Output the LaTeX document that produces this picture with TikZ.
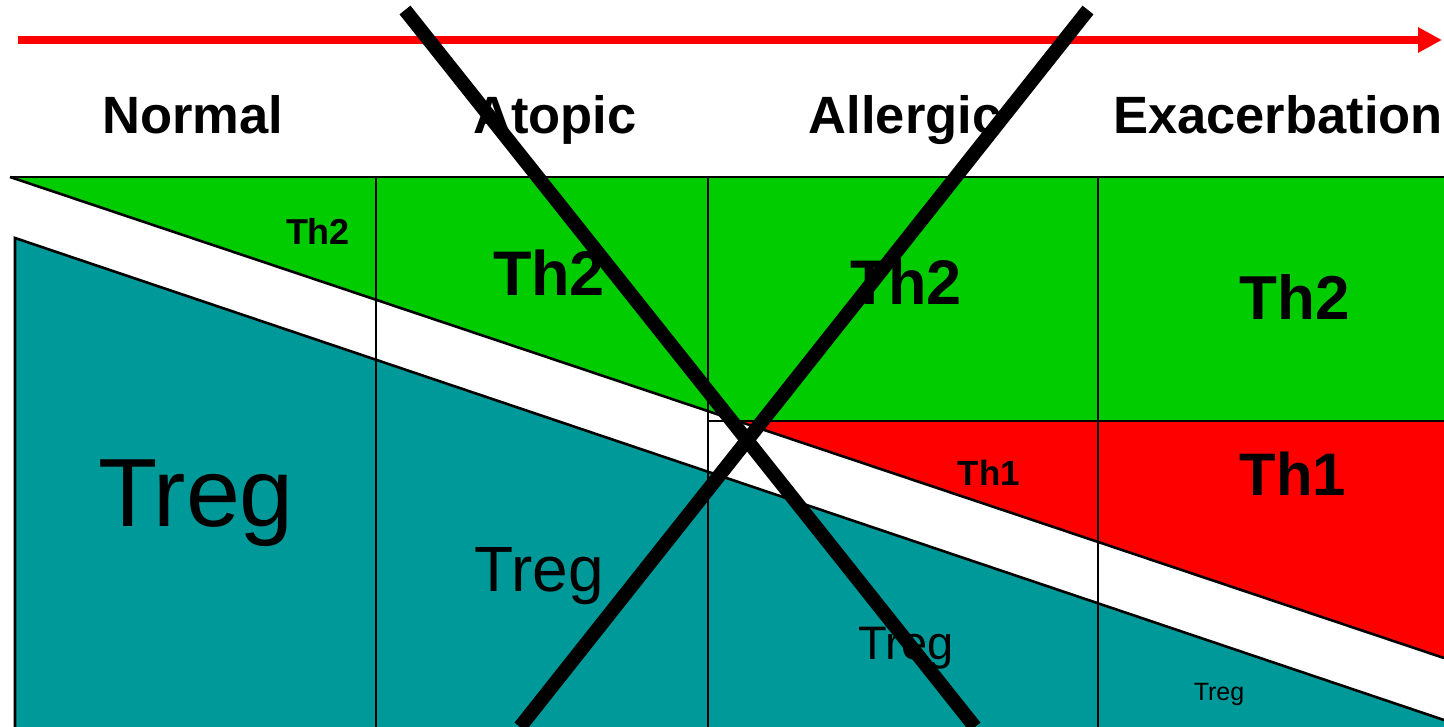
\documentclass[tikz,border=0pt]{standalone}
\usepackage{fontspec}
\setmainfont{Liberation Sans}
\usetikzlibrary{arrows.meta}
\definecolor{thgreen}{RGB}{0,204,0}
\definecolor{thred}{RGB}{255,0,0}
\definecolor{tregteal}{RGB}{0,153,153}
\tikzset{
  region/.style={draw=black, line width=2.6pt, line join=miter},
  divider/.style={draw=black, line width=1.5pt},
  stagelabel/.style={anchor=base, inner sep=0pt, font=\fontsize{52.5}{52.5}\selectfont\bfseries},
  cellb/.style={anchor=base, inner sep=0pt, font=\fontsize{#1}{#1}\selectfont\bfseries},
  cellr/.style={anchor=base, inner sep=0pt, font=\fontsize{#1}{#1}\selectfont},
  crossline/.style={draw=black, line width=14pt},
  timearrow/.style={draw=thred, line width=8pt, -{Triangle[length=24pt,width=24pt]}}
}
\begin{document}
\begin{tikzpicture}[x=1pt,y=-1pt]
\useasboundingbox[fill=white] (0,0) rectangle (1444,727);
% coordinates
\coordinate (gA) at (10,177);
\coordinate (gB) at (1444,177);
\coordinate (gC) at (1444,421);
\coordinate (gD) at (737,421);
\coordinate (rE) at (1444,658);
\coordinate (tA) at (15,238);
\coordinate (tB) at (1444,720);
\coordinate (tC) at (1444,727);
\coordinate (tD) at (15,727);
% regions
\fill[thgreen] (gA) -- (gB) -- (gC) -- (gD) -- cycle;
\fill[thred] (gD) -- (gC) -- (rE) -- cycle;
\fill[tregteal] (tA) -- (tB) -- (tC) -- (tD) -- cycle;
\draw[region] (gA) -- (gB);
\draw[region] (gA) -- (rE);
\draw[region] (tD) -- (tA) -- (tB);
% dividers
\coordinate (v1t) at (376,177); \coordinate (v1b) at (376,727);
\coordinate (v2t) at (708,177); \coordinate (v2b) at (708,727);
\coordinate (v3t) at (1098,177); \coordinate (v3b) at (1098,727);
\coordinate (hL) at (708,421);
\draw[divider] (v1t) -- (v1b);
\draw[divider] (v2t) -- (v2b);
\draw[divider] (v3t) -- (v3b);
\draw[region] (hL) -- (gC);
% labels
\node[stagelabel] (normal) at (193,134) {Normal};
\node[stagelabel] (atopic) at (555,134) {Atopic};
\node[stagelabel] (allergic) at (905,134) {Allergic};
\node[stagelabel] (exac) at (1278,134) {Exacerbation};
\node[cellb=36] (th2a) at (318,245) {Th2};
\node[cellb=63] (th2b) at (549,296) {Th2};
\node[cellb=63] (th2c) at (906,305) {Th2};
\node[cellb=62] (th2d) at (1295,320) {Th2};
\node[cellb=35] (th1a) at (989,485) {Th1};
\node[cellb=60] (th1b) at (1293,495) {Th1};
\node[cellr=97] (trega) at (196,526) {Treg};
\node[cellr=64] (tregb) at (539,591) {Treg};
\node[cellr=47] (tregc) at (906,659) {Treg};
\node[cellr=25] (tregd) at (1219,700) {Treg};
% time arrow
\coordinate (arS) at (18,40);
\coordinate (arE) at (1442,40);
\draw[timearrow] (arS) -- (arE);
% cross
\coordinate (x1a) at (405,10); \coordinate (x1b) at (975,727);
\coordinate (x2a) at (1088,10); \coordinate (x2b) at (520,727);
\draw[crossline] (x1a) -- (x1b);
\draw[crossline] (x2a) -- (x2b);
\end{tikzpicture}
\end{document}
